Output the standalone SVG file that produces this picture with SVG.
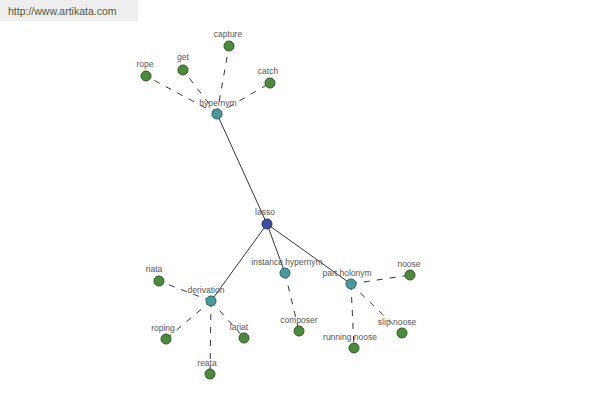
<svg xmlns="http://www.w3.org/2000/svg" width="600" height="400" viewBox="0 0 600 400">
<style>
text{font-family:"Liberation Sans",Arial,sans-serif;font-size:8.5px;fill:#555;text-anchor:middle}
.s{stroke:#000;stroke-width:0.8;fill:none}
.d{stroke:#000;stroke-width:0.8;fill:none;stroke-dasharray:6,7}
.g{fill:#4e8a3e;stroke:#2e5a26;stroke-width:1}
.t{fill:#4a9a9c;stroke:#2a6266;stroke-width:1}
.b{fill:#3f4fa0;stroke:#252f6a;stroke-width:1}
</style>
<rect x="0" y="0" width="138" height="21" fill="#eeeeee"/>
<text x="8" y="15" style="text-anchor:start;font-size:10.5px;fill:#4e5a3e">http://www.artikata.com</text>
<g id="connectors">
<line class="s" x1="217" y1="114" x2="267" y2="224"/>
<line class="s" x1="267" y1="224" x2="211" y2="301"/>
<line class="s" x1="267" y1="224" x2="285" y2="273"/>
<line class="s" x1="267" y1="224" x2="351" y2="284"/>
<line class="d" x1="217" y1="114" x2="146" y2="76"/>
<line class="d" x1="217" y1="114" x2="183" y2="70"/>
<line class="d" x1="217" y1="114" x2="229" y2="46"/>
<line class="d" x1="217" y1="114" x2="270" y2="83"/>
<line class="d" x1="211" y1="301" x2="159" y2="281"/>
<line class="d" x1="211" y1="301" x2="166" y2="339"/>
<line class="d" x1="211" y1="301" x2="210" y2="374"/>
<line class="d" x1="211" y1="301" x2="244" y2="338"/>
<line class="d" x1="285" y1="273" x2="299" y2="331"/>
<line class="d" x1="351" y1="284" x2="410" y2="275"/>
<line class="d" x1="351" y1="284" x2="402" y2="333"/>
<line class="d" x1="351" y1="284" x2="354" y2="348"/>
</g>
<g id="n-hypernym"><circle class="t" cx="217" cy="114" r="5"/><text x="218" y="106">hypernym</text></g>
<g id="n-rope"><circle class="g" cx="146" cy="76" r="5"/><text x="145" y="67">rope</text></g>
<g id="n-get"><circle class="g" cx="183" cy="70" r="5"/><text x="183" y="60">get</text></g>
<g id="n-capture"><circle class="g" cx="229" cy="46" r="5"/><text x="228" y="37">capture</text></g>
<g id="n-catch"><circle class="g" cx="270" cy="83" r="5"/><text x="268" y="74">catch</text></g>
<g id="n-lasso"><circle class="b" cx="267" cy="224" r="5"/><text x="265" y="215">lasso</text></g>
<g id="n-derivation"><circle class="t" cx="211" cy="301" r="5"/><text x="206" y="293">derivation</text></g>
<g id="n-riata"><circle class="g" cx="159" cy="281" r="5"/><text x="154" y="272">riata</text></g>
<g id="n-roping"><circle class="g" cx="166" cy="339" r="5"/><text x="163" y="331">roping</text></g>
<g id="n-reata"><circle class="g" cx="210" cy="374" r="5"/><text x="207" y="366">reata</text></g>
<g id="n-lariat"><circle class="g" cx="244" cy="338" r="5"/><text x="239" y="330">lariat</text></g>
<g id="n-instance"><circle class="t" cx="285" cy="273" r="5"/><text x="287" y="265">instance hypernym</text></g>
<g id="n-composer"><circle class="g" cx="299" cy="331" r="5"/><text x="299" y="323">composer</text></g>
<g id="n-partholonym"><circle class="t" cx="351" cy="284" r="5"/><text x="347" y="276">part holonym</text></g>
<g id="n-noose"><circle class="g" cx="410" cy="275" r="5"/><text x="409" y="267">noose</text></g>
<g id="n-slipnoose"><circle class="g" cx="402" cy="333" r="5"/><text x="397" y="325">slip noose</text></g>
<g id="n-runningnoose"><circle class="g" cx="354" cy="348" r="5"/><text x="350" y="340">running noose</text></g>
</svg>
